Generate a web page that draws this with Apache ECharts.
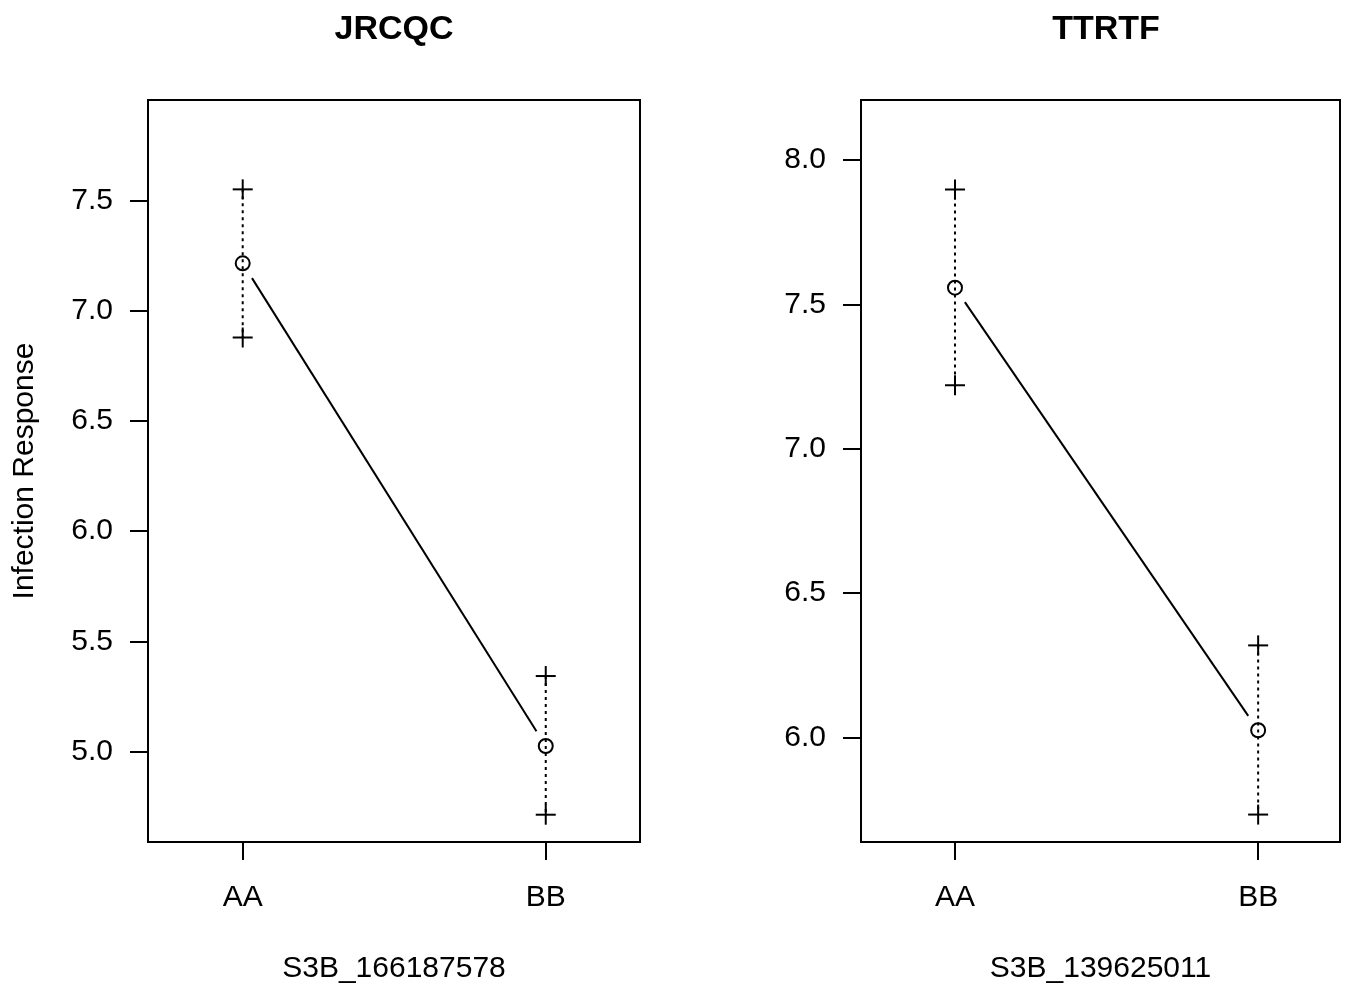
<!DOCTYPE html>
<html>
<head>
<meta charset="utf-8">
<script src="https://cdn.jsdelivr.net/npm/echarts@6/dist/echarts.min.js"></script>
<style>
  html, body { margin: 0; padding: 0; background: #fff; }
  #main { width: 1359px; height: 986px; }
</style>
</head>
<body>
<div id="main"></div>
<script>
// data
const genotypes = ['AA', 'BB'];
const genoPos = [1, 2];

const titles = ['JRCQC', 'TTRTF'];
const markerNames = ['S3B_166187578', 'S3B_139625011'];

const jrcqcMean = [7.217, 5.024];
const jrcqcUpper = [7.553, 5.342];
const jrcqcLower = [6.880, 4.712];

const ttrtfMean = [7.558, 6.025];
const ttrtfUpper = [7.898, 6.319];
const ttrtfLower = [7.220, 5.733];

const yTicks1 = [5.0, 5.5, 6.0, 6.5, 7.0, 7.5];
const yTicks2 = [6.0, 6.5, 7.0, 7.5, 8.0];

const FONT = '"Liberation Sans", Arial, Helvetica, sans-serif';
const chart = echarts.init(document.getElementById('main'), null, { renderer: 'canvas' });

// error bar + points for one panel
function makeRender(mean, upper, lower) {
	return function (params, api) {
		let i = params.dataIndex;
		let x = genoPos[i];
		let pm = api.coord([x, mean[i]]);
		let pu = api.coord([x, upper[i]]);
		let pl = api.coord([x, lower[i]]);
		let half = 10;
		let stroke = { stroke: '#000', lineWidth: 2 };
		let children = [
			{ type: 'line', shape: { x1: pu[0], y1: pu[1], x2: pl[0], y2: pl[1] },
			  style: { stroke: '#000', lineWidth: 2, lineDash: [3, 4] } },
			{ type: 'line', shape: { x1: pu[0] - half, y1: pu[1], x2: pu[0] + half, y2: pu[1] }, style: stroke },
			{ type: 'line', shape: { x1: pu[0], y1: pu[1] - half, x2: pu[0], y2: pu[1] + half }, style: stroke },
			{ type: 'line', shape: { x1: pl[0] - half, y1: pl[1], x2: pl[0] + half, y2: pl[1] }, style: stroke },
			{ type: 'line', shape: { x1: pl[0], y1: pl[1] - half, x2: pl[0], y2: pl[1] + half }, style: stroke },
			{ type: 'circle', shape: { cx: pm[0], cy: pm[1], r: 7 },
			  style: { fill: 'rgba(0,0,0,0)', stroke: '#000', lineWidth: 2 } }
		];
		// connecting line with a gap round the points (R type "b")
		if (i < mean.length - 1) {
			let pn = api.coord([genoPos[i + 1], mean[i + 1]]);
			let dx = pn[0] - pm[0], dy = pn[1] - pm[1];
			let len = Math.sqrt(dx * dx + dy * dy);
			let gap = 17.5;
			children.push({
				type: 'line',
				shape: {
					x1: pm[0] + dx / len * gap, y1: pm[1] + dy / len * gap,
					x2: pn[0] - dx / len * gap, y2: pn[1] - dy / len * gap
				},
				style: stroke
			});
		}
		return { type: 'group', children: children };
	};
}

function xAxisOpt(idx, name, min, max) {
	return {
		type: 'value',
		gridIndex: idx,
		min: min,
		max: max,
		name: name,
		nameLocation: 'middle',
		nameGap: 112,
		nameTextStyle: { fontSize: 30, color: '#000', fontFamily: FONT },
		axisLine: { show: false },
		splitLine: { show: false },
		axisTick: { show: true, length: 18, customValues: genoPos, lineStyle: { color: '#000', width: 2 } },
		axisLabel: {
			show: true, margin: 41, fontSize: 30, color: '#000', fontFamily: FONT,
			customValues: genoPos,
			formatter: function (v) { return genotypes[Math.round(v) - 1]; }
		}
	};
}

function yAxisOpt(idx, ticks, min, max, name) {
	return {
		type: 'value',
		gridIndex: idx,
		min: min,
		max: max,
		name: name,
		nameLocation: 'middle',
		nameGap: 108,
		nameRotate: 90,
		nameTextStyle: { fontSize: 30, color: '#000', fontFamily: FONT },
		axisLine: { show: false },
		splitLine: { show: false },
		axisTick: { show: true, length: 18, customValues: ticks, lineStyle: { color: '#000', width: 2 } },
		axisLabel: {
			show: true, margin: 35, fontSize: 30, color: '#000', fontFamily: FONT,
			customValues: ticks,
			formatter: function (v) { return v.toFixed(1); }
		}
	};
}

let option = {
	backgroundColor: '#fff',
	animation: false,
	title: [
		{ text: titles[0], left: 389, top: 8, textAlign: 'center',
		  textStyle: { fontSize: 34, fontWeight: 'bold', color: '#000', fontFamily: FONT } },
		{ text: titles[1], left: 1101, top: 8, textAlign: 'center',
		  textStyle: { fontSize: 34, fontWeight: 'bold', color: '#000', fontFamily: FONT } }
	],
	grid: [
		{ left: 148, top: 100, width: 492, height: 742, show: true, borderColor: '#000', borderWidth: 2,
		  backgroundColor: 'transparent', containLabel: false, outerBoundsMode: 'none' },
		{ left: 861, top: 100, width: 479, height: 742, show: true, borderColor: '#000', borderWidth: 2,
		  backgroundColor: 'transparent', containLabel: false, outerBoundsMode: 'none' }
	],
	xAxis: [
		xAxisOpt(0, markerNames[0], 0.6875, 2.311),
		xAxisOpt(1, markerNames[1], 0.69, 2.27)
	],
	yAxis: [
		yAxisOpt(0, yTicks1, 4.588, 7.959, 'Infection Response'),
		yAxisOpt(1, yTicks2, 5.638, 8.208, '')
	],
	series: [
		{
			type: 'custom',
			xAxisIndex: 0, yAxisIndex: 0,
			renderItem: makeRender(jrcqcMean, jrcqcUpper, jrcqcLower),
			data: genoPos.map(function (x, i) { return [x, jrcqcMean[i], jrcqcLower[i], jrcqcUpper[i]]; }),
			clip: false
		},
		{
			type: 'custom',
			xAxisIndex: 1, yAxisIndex: 1,
			renderItem: makeRender(ttrtfMean, ttrtfUpper, ttrtfLower),
			data: genoPos.map(function (x, i) { return [x, ttrtfMean[i], ttrtfLower[i], ttrtfUpper[i]]; }),
			clip: false
		}
	]
};

chart.setOption(option);
</script>
</body>
</html>
